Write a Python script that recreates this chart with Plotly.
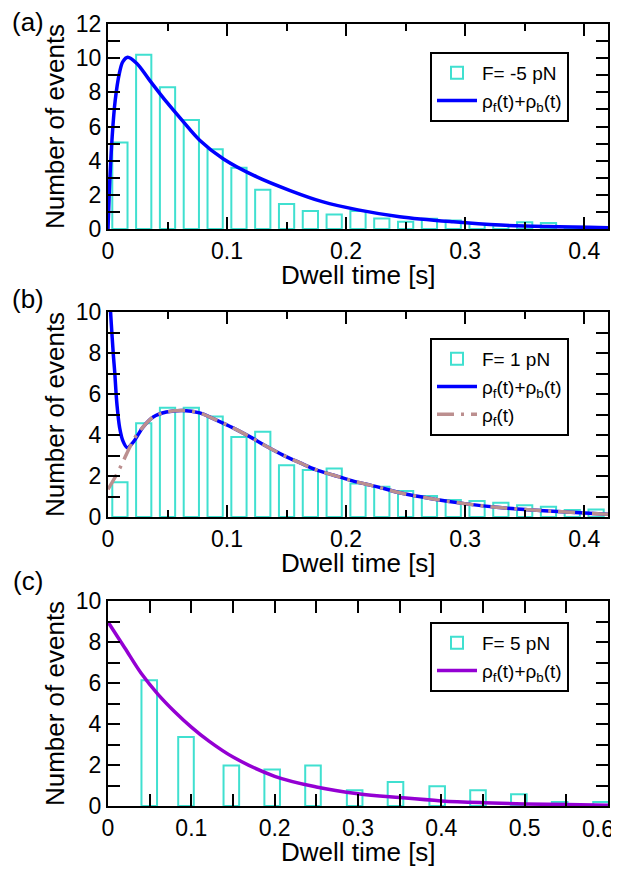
import plotly.graph_objects as go
from plotly.subplots import make_subplots

# ---------------- data ----------------
# Panel (a): F = -5 pN
bins_a = [0.01, 0.03, 0.05, 0.07, 0.09, 0.11, 0.13, 0.15, 0.17, 0.19, 0.21,
          0.23, 0.25, 0.27, 0.29, 0.31, 0.33, 0.35, 0.37, 0.39, 0.41]
counts_a = [5.07, 10.2, 8.3, 6.38, 4.67, 3.59, 2.3, 1.47, 1.05, 0.85, 1.06,
            0.62, 0.43, 0.6, 0.5, 0.3, 0.2, 0.4, 0.35, 0.1, 0.1]
fit_a_t = [0, 0.0015, 0.0035, 0.006, 0.0095, 0.0125, 0.0165, 0.024, 0.035, 0.049,
           0.063, 0.077, 0.097, 0.125, 0.153, 0.18, 0.21, 0.245, 0.29, 0.33, 0.37, 0.42]
fit_a_y = [0, 2.8, 5.4, 7.5, 9.1, 9.8, 10.05, 9.7, 8.7, 7.45,
           6.3, 5.2, 4.1, 3.05, 2.25, 1.6, 1.12, 0.72, 0.42, 0.23, 0.14, 0.08]

# Panel (b): F = 1 pN
bins_b = bins_a
counts_b = [1.7, 4.57, 5.33, 5.33, 4.9, 3.9, 4.16, 2.52, 2.29, 2.36, 1.63,
            1.48, 1.27, 1.02, 0.83, 0.78, 0.7, 0.57, 0.5, 0.34, 0.37]
fit_b_t = [0.0015, 0.0028, 0.0045, 0.0056, 0.0075, 0.0098, 0.0126, 0.0162, 0.0212,
           0.0296, 0.038, 0.049, 0.063, 0.077, 0.091, 0.105, 0.119, 0.133, 0.147,
           0.161, 0.175, 0.189, 0.203, 0.217, 0.231, 0.245, 0.273, 0.301, 0.329,
           0.357, 0.385, 0.42]
fit_b_y = [10.6, 9.4, 7.9, 7.1, 5.5, 4.35, 3.7, 3.38, 3.65,
           4.4, 4.88, 5.12, 5.2, 5.08, 4.73, 4.35, 3.92, 3.45, 3.02,
           2.65, 2.3, 2.05, 1.8, 1.6, 1.4, 1.18, 0.88, 0.64, 0.46,
           0.34, 0.24, 0.14]
rhof_b_t = [0, 0.007, 0.0126, 0.0185, 0.024, 0.0296, 0.038, 0.049, 0.063, 0.077,
            0.091, 0.105, 0.119, 0.133, 0.147, 0.161, 0.175, 0.189, 0.203, 0.217,
            0.231, 0.245, 0.273, 0.301, 0.329, 0.357, 0.385, 0.42]
rhof_b_y = [1.35, 2.05, 2.7, 3.43, 4.0, 4.4, 4.88, 5.12, 5.2, 5.08,
            4.73, 4.35, 3.92, 3.45, 3.02, 2.65, 2.3, 2.05, 1.8, 1.6,
            1.4, 1.18, 0.88, 0.64, 0.46, 0.34, 0.24, 0.14]

# Panel (c): F = 5 pN
bins_c = [0.0495, 0.0936, 0.148, 0.197, 0.246, 0.296, 0.345, 0.395, 0.444,
          0.493, 0.542, 0.5916]
counts_c = [6.13, 3.37, 1.97, 1.78, 1.97, 0.77, 1.17, 0.96, 0.77, 0.57, 0.2, 0.2]
fit_c_t = [0, 0.02, 0.04, 0.06, 0.08, 0.1, 0.12, 0.15, 0.2, 0.25, 0.3, 0.35,
           0.4, 0.45, 0.5, 0.55, 0.6]
fit_c_y = [8.98, 7.72, 6.46, 5.45, 4.6, 3.85, 3.2, 2.39, 1.45, 0.93, 0.6, 0.41,
           0.25, 0.16, 0.1, 0.07, 0.04]

# tick values / labels (the last label of panel (c) sits at the right edge)
xticks_ab = [0, 0.1, 0.2, 0.3, 0.4]
xticklabels_ab = ["0", "0.1", "0.2", "0.3", "0.4"]
xticks_c = [0, 0.1, 0.2, 0.3, 0.4, 0.5, 0.6]
xticklabels_c = ["0", "0.1", "0.2", "0.3", "0.4", "0.5", ""]
edge_label_c = "0.6"

labels = ["F= -5 pN", "F= 1 pN", "F= 5 pN"]
fit_name = "ρ<sub>f</sub>(t)+ρ<sub>b</sub>(t)"
rhof_name = "ρ<sub>f</sub>(t)"
x_title = "Dwell time [s]"
y_title = "Number of events"
panel_tags = ["(a)", "(b)", "(c)"]

# ---------------- style / layout (pixel positions of the reference) ----------------
FONT = "Liberation Sans, Arial, Helvetica, sans-serif"
TURQ = "#40E0D0"
OFF = 8                      # page body margin of the browser
W, H = 619 - OFF, 869 - OFF
PL, PR = 108, 608            # plot area left / right in reference pixels
PANEL_Y = [(24, 229), (312, 517), (601, 806)]
ML, MR = PL - OFF, 619 - PR
MT = PANEL_Y[0][0] - OFF
MB = 869 - PANEL_Y[2][1]
PH = H - MT - MB
PW = W - ML - MR


def py(px):
    return 1 - (px - OFF - MT) / PH


def px_x(px):
    return (px - OFF - ML) / PW


fig = make_subplots(rows=3, cols=1)

bar_style = dict(marker=dict(color="rgba(0,0,0,0)", line=dict(color=TURQ, width=2)))
curve = dict(width=3.5, shape="spline", smoothing=1.0)

fig.add_trace(go.Bar(x=bins_a, y=counts_a, width=0.0128, name=labels[0],
                     legend="legend", **bar_style), row=1, col=1)
fig.add_trace(go.Scatter(x=fit_a_t, y=fit_a_y, mode="lines", name=fit_name,
                         line=dict(curve, color="#0000FF"), legend="legend"), row=1, col=1)

fig.add_trace(go.Bar(x=bins_b, y=counts_b, width=0.0128, name=labels[1],
                     legend="legend2", **bar_style), row=2, col=1)
fig.add_trace(go.Scatter(x=fit_b_t, y=fit_b_y, mode="lines", name=fit_name,
                         line=dict(curve, color="#0000FF"), legend="legend2"), row=2, col=1)
fig.add_trace(go.Scatter(x=rhof_b_t, y=rhof_b_y, mode="lines", name=rhof_name,
                         line=dict(curve, color="#BC8F8F", dash="17px,7px,3px,7px"),
                         legend="legend2"), row=2, col=1)

fig.add_trace(go.Bar(x=bins_c, y=counts_c, width=0.0187, name=labels[2],
                     legend="legend3", **bar_style), row=3, col=1)
fig.add_trace(go.Scatter(x=fit_c_t, y=fit_c_y, mode="lines", name=fit_name,
                         line=dict(curve, color="#9400D3"), legend="legend3"), row=3, col=1)

axis_common = dict(showline=True, linewidth=2, linecolor="black", mirror="allticks",
                   ticks="inside", tickwidth=2, tickcolor="black", showgrid=False,
                   zeroline=False, automargin=False, ticklabeloverflow="allow",
                   tickfont=dict(family=FONT, size=23, color="black"),
                   title_font=dict(family=FONT, size=26, color="black"))

xranges = [[0, 0.42], [0, 0.42], [0, 0.6]]
yranges = [[0, 12], [0, 10], [0, 10]]
xminor_len = [7, 7, 12]
xtv = [xticks_ab, xticks_ab, xticks_c]
xtt = [xticklabels_ab, xticklabels_ab, xticklabels_c]

for i in range(3):
    n = "" if i == 0 else str(i + 1)
    top, bot = PANEL_Y[i]
    fig.update_layout({
        "xaxis" + n: dict(axis_common, range=xranges[i], tickmode="array",
                          tickvals=xtv[i], ticktext=xtt[i], ticklen=12,
                          minor=dict(ticks="inside", dtick=0.05, tick0=0,
                                     ticklen=xminor_len[i], tickwidth=2, tickcolor="black"),
                          domain=[0, 1]),
        "yaxis" + n: dict(axis_common, range=yranges[i], dtick=2, tick0=0, ticklen=12,
                          minor=dict(ticks="inside", dtick=1, ticklen=12,
                                     tickwidth=2, tickcolor="black"),
                          title=dict(text=y_title, standoff=4),
                          domain=[py(bot), py(top)]),
    })
    # x-axis title
    fig.add_annotation(text=x_title, xref="paper", yref="paper",
                       x=px_x((PL + PR) / 2), y=py(bot + 46), xanchor="center",
                       yanchor="middle", showarrow=False,
                       font=dict(family=FONT, size=26, color="black"))
    # panel tag
    fig.add_annotation(text=panel_tags[i], xref="paper", yref="paper", x=px_x(28),
                       y=py([22, 299, 581][i]), xanchor="center", yanchor="middle",
                       showarrow=False, font=dict(family=FONT, size=26, color="black"))

# last tick label of panel (c), kept inside the page like in the reference
fig.add_annotation(text=edge_label_c, xref="x3", yref="paper", x=xticks_c[-1],
                   y=py(PANEL_Y[2][1] + 23), xanchor="right", yanchor="middle",
                   xshift=8, showarrow=False,
                   font=dict(family=FONT, size=23, color="black"))

leg_common = dict(xanchor="left", yanchor="top", bgcolor="white", bordercolor="black",
                  borderwidth=2, font=dict(family=FONT, size=19, color="black"),
                  itemwidth=40, tracegroupgap=0)
fig.update_layout(
    legend=dict(leg_common, x=px_x(430), y=py(52)),
    legend2=dict(leg_common, x=px_x(430), y=py(338)),
    legend3=dict(leg_common, x=px_x(430), y=py(622)),
)

fig.update_layout(width=W, height=H, margin=dict(l=ML, r=MR, t=MT, b=MB),
                  paper_bgcolor="white", plot_bgcolor="white", showlegend=True,
                  font=dict(family=FONT, color="black"))

fig.write_html("out.html")
